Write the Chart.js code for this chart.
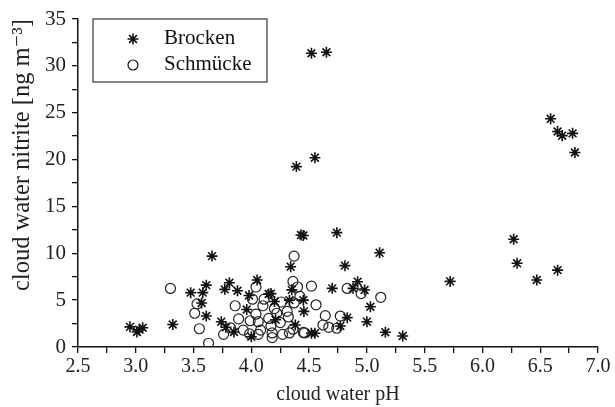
<!DOCTYPE html>
<html>
<head>
<meta charset="utf-8">
<script src="https://cdn.jsdelivr.net/npm/chart.js@4/dist/chart.umd.min.js"></script>
<style>
html,body{margin:0;padding:0;background:#fff;}
#wrap{width:615px;height:407px;position:relative;}
</style>
</head>
<body>
<div id="wrap"><canvas id="c" width="615" height="407"></canvas></div>
<script>
// ---- data ----
const seriesNames = ["Brocken", "Schmücke"];

const brockenPH = [2.95,3.01,3.03,3.06,3.32,3.475,3.58,3.57,3.61,3.61,3.66,3.74,3.78,3.77,3.81,3.88,3.85,3.96,3.98,4.00,4.05,4.15,4.17,4.20,4.21,4.33,4.34,4.35,4.38,4.39,4.43,4.45,4.455,4.45,4.52,4.55,4.52,4.55,4.65,4.70,4.74,4.77,4.83,4.81,4.88,4.92,4.98,5.00,5.03,5.11,5.16,5.31,5.72,6.27,6.30,6.47,6.65,6.59,6.65,6.69,6.78,6.80];
const brockenNitrite = [2.15,1.6,1.85,2.05,2.4,5.8,5.8,4.7,6.6,3.3,9.7,2.7,2.1,6.15,6.85,6.0,1.6,4.0,5.5,1.1,7.15,5.65,5.7,4.85,2.9,5.0,8.57,6.1,2.35,19.25,11.95,11.9,3.8,5.0,31.35,20.2,1.46,1.46,31.45,6.26,12.2,2.24,3.13,8.68,6.26,6.97,6.08,2.7,4.3,10.05,1.57,1.17,7.0,11.5,8.93,7.15,8.2,24.35,23.0,22.55,22.8,20.75];

const schmuckePH = [3.30,3.53,3.51,3.55,3.63,3.76,3.86,3.82,3.89,3.93,3.985,3.99,4.01,4.04,4.04,4.06,4.08,4.06,4.10,4.11,4.15,4.17,4.18,4.18,4.20,4.22,4.25,4.27,4.26,4.31,4.32,4.33,4.36,4.37,4.40,4.42,4.37,4.46,4.52,4.56,4.64,4.62,4.67,4.74,4.77,4.83,4.95,5.12,4.36,4.45];
const schmuckeNitrite = [6.25,4.6,3.6,1.95,0.4,1.35,4.4,2.05,3.0,1.8,1.4,2.8,5.1,6.4,3.5,2.7,1.8,1.35,4.4,5.1,3.05,2.25,1.5,1.0,4.1,3.6,2.6,1.35,4.8,3.8,3.2,1.5,7.0,4.7,6.4,5.4,9.7,1.5,6.5,4.5,3.35,2.35,2.1,2.0,3.3,6.25,5.7,5.3,1.9,1.55];

const xTitle = "cloud water pH";
const yTitle = "cloud water nitrite [ng m⁻³]";
// -----------------------------------------------

function pts(xs, ys){ return xs.map((x,i)=>({x:x, y:ys[i]})); }

const FONT = "'Liberation Serif', 'DejaVu Serif', serif";
const INK = '#111';

const legendBox = {
  id: 'legendBox',
  afterDraw(chart){
    const ctx = chart.ctx;
    const a = chart.chartArea;
    const bx = a.left + 15, by = a.top, bw = 174, bh = 63;
    ctx.save();
    ctx.strokeStyle = '#444';
    ctx.lineWidth = 1.3;
    ctx.strokeRect(bx, by, bw, bh);
    chart.data.datasets.forEach((ds, i) => {
      const cy = by + 20 + i*26;
      ctx.strokeStyle = INK;
      ctx.fillStyle = 'rgba(0,0,0,0)';
      ctx.lineWidth = ds.borderWidth;
      Chart.helpers.drawPoint(ctx, {pointStyle: ds.pointStyle, radius: ds.pointRadius, borderWidth: ds.borderWidth, rotation: 0}, bx + 40, cy);
      ctx.fillStyle = INK;
      ctx.font = "21px " + FONT;
      ctx.textBaseline = 'middle';
      ctx.textAlign = 'left';
      ctx.fillText(ds.label, bx + 71, cy - 1);
    });
    ctx.restore();
  }
};

new Chart(document.getElementById('c'), {
  type: 'scatter',
  data: {
    datasets: [
      {
        label: seriesNames[0],
        data: pts(brockenPH, brockenNitrite),
        pointStyle: 'star',
        pointRadius: 5.5,
        pointHoverRadius: 5.5,
        borderColor: INK,
        backgroundColor: INK,
        borderWidth: 1.6
      },
      {
        label: seriesNames[1],
        data: pts(schmuckePH, schmuckeNitrite),
        pointStyle: 'circle',
        pointRadius: 5,
        pointHoverRadius: 5,
        borderColor: '#222',
        backgroundColor: 'rgba(255,255,255,0)',
        borderWidth: 1.2
      }
    ]
  },
  options: {
    responsive: false,
    animation: false,
    events: [],
    layout: { padding: { top: 19, right: 17, left: 0, bottom: 0 } },
    plugins: {
      legend: { display: false },
      tooltip: { enabled: false }
    },
    scales: {
      x: {
        type: 'linear',
        min: 2.5, max: 7.0,
        afterFit(s){ s.height = 60; },
        border: { display: true, color: INK, width: 1.5 },
        grid: { display: true, drawOnChartArea: false, drawTicks: true, tickLength: 6, color: INK, lineWidth: 1.3 },
        ticks: {
          stepSize: 0.25, autoSkip: false, maxRotation: 0, padding: 2,
          color: '#222', font: { family: FONT, size: 20 },
          callback(v){ const d = v*2; return Math.abs(d - Math.round(d)) < 1e-6 ? v.toFixed(1) : ''; }
        },
        title: { display: true, text: xTitle, color: '#222', font: { family: FONT, size: 20 }, padding: { top: 3, bottom: 0 } }
      },
      y: {
        type: 'linear',
        min: 0, max: 35,
        afterFit(s){ s.width = 78; },
        border: { display: true, color: INK, width: 1.5 },
        grid: { display: true, drawOnChartArea: false, drawTicks: true, tickLength: 6, color: INK, lineWidth: 1.3 },
        ticks: {
          stepSize: 2.5, autoSkip: false, padding: 6,
          color: '#222', font: { family: FONT, size: 21 },
          callback(v){ return Math.abs(v/5 - Math.round(v/5)) < 1e-6 ? String(v) : ''; }
        },
        title: { display: true, text: yTitle, align: 'end', color: '#222', font: { family: FONT, size: 24.5 }, padding: { top: 8, bottom: 0 } }
      }
    }
  },
  plugins: [legendBox]
});
</script>
</body>
</html>
